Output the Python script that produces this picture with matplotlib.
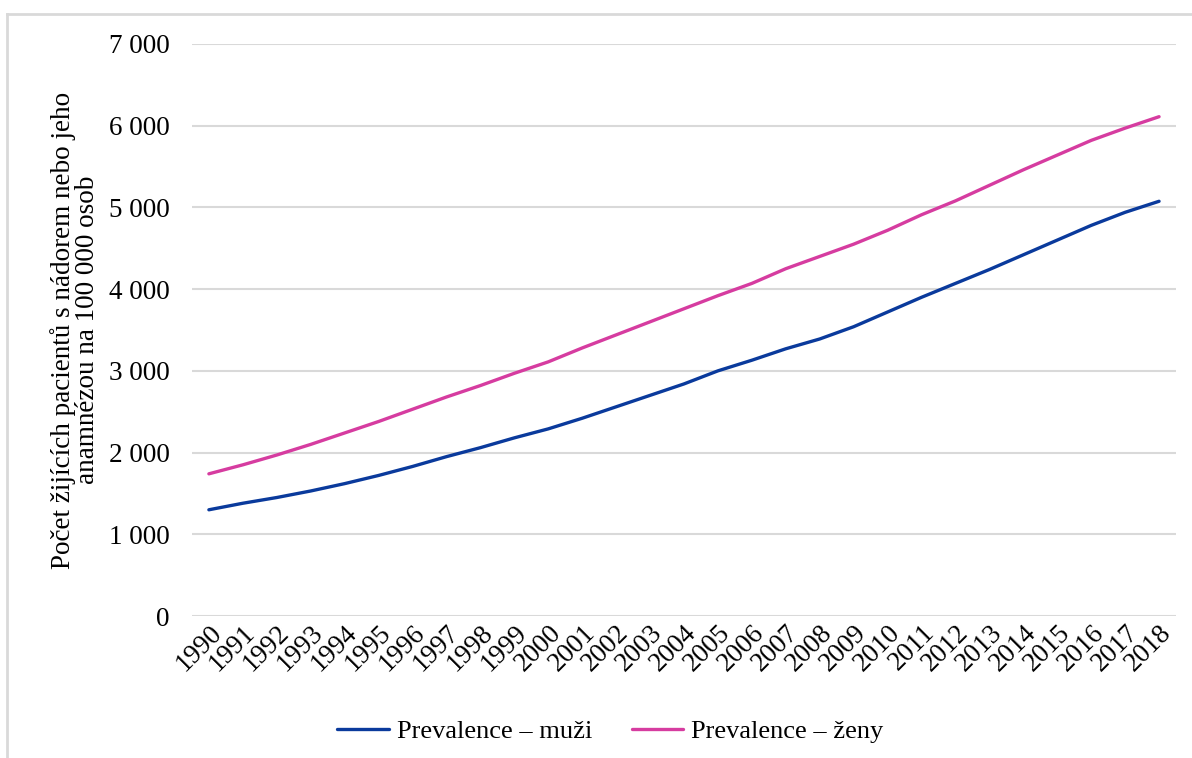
#! /usr/bin/env python
"""Prevalence of cancer patients per 100 000 persons, 1990-2018"""

from matplotlib import pyplot as plt
from matplotlib.lines import Line2D
from matplotlib.ticker import FuncFormatter

# Data
years = list(range(1990, 2019))
men = [1300, 1380, 1450, 1530, 1620, 1720, 1830, 1950, 2060, 2180,
       2290, 2420, 2560, 2700, 2840, 3000, 3130, 3270, 3390, 3540,
       3720, 3900, 4070, 4240, 4420, 4600, 4780, 4940, 5075]
women = [1740, 1850, 1970, 2100, 2240, 2380, 2530, 2680, 2820, 2970,
         3110, 3280, 3440, 3600, 3760, 3920, 4070, 4250, 4400, 4550,
         4720, 4910, 5080, 5270, 5460, 5640, 5820, 5970, 6110]
series_labels = ["Prevalence – muži", "Prevalence – ženy"]
y_label = "Počet žijících pacientů s nádorem nebo jeho\nanamnézou na 100 000 osob"

BLUE = "#0A3A9C"
PINK = "#D63CA0"
GRID = "#D9D9D9"

plt.rcParams['font.family'] = ['Liberation Serif', 'DejaVu Serif']


def main():
    """Entry point"""
    fig = plt.figure(figsize=(11.92, 7.58), dpi=100)
    ax = fig.add_axes([0.161, 0.1873, 0.8256, 0.7547])

    x = list(range(len(years)))
    ax.plot(x, men, color=BLUE, lw=2.4, label=series_labels[0],
            solid_capstyle='round')
    ax.plot(x, women, color=PINK, lw=2.4, label=series_labels[1],
            solid_capstyle='round')

    ax.set_xlim(-0.5, len(years) - 0.5)
    ax.set_ylim(0, 7000)
    ax.set_yticks(range(0, 7001, 1000))
    ax.yaxis.set_major_formatter(
        FuncFormatter(lambda v, _: f"{v:,.0f}".replace(",", " ")))
    ax.grid(axis='y', color=GRID, lw=1.5)
    ax.set_axisbelow(True)
    for side in ax.spines.values():
        side.set_visible(False)
    ax.tick_params(axis='y', length=0, pad=16, labelsize=19.5)
    ax.tick_params(axis='x', length=0, pad=3, labelsize=19.5)

    ax.set_xticks(x)
    ax.set_xticklabels([str(y) for y in years], rotation=45,
                       ha='right', rotation_mode='anchor')

    ax.set_ylabel(y_label, fontsize=19.5, linespacing=0.95, labelpad=6)

    ax.legend(loc='upper center', bbox_to_anchor=(0.425, -0.14), ncol=2,
              frameon=False, fontsize=19, handlelength=1.95,
              columnspacing=1.5, handletextpad=0.3)

    # frame of the original chart box (left and top edges only)
    fig.add_artist(Line2D([0.0059, 0.0059], [0.0, 0.9815], color=GRID, lw=2))
    fig.add_artist(Line2D([0.0059, 1.0], [0.9815, 0.9815], color=GRID, lw=2))

    plt.savefig("out.png", dpi=100)


#-------------------------------------------------------------------------------

if __name__ == "__main__":
    main()
